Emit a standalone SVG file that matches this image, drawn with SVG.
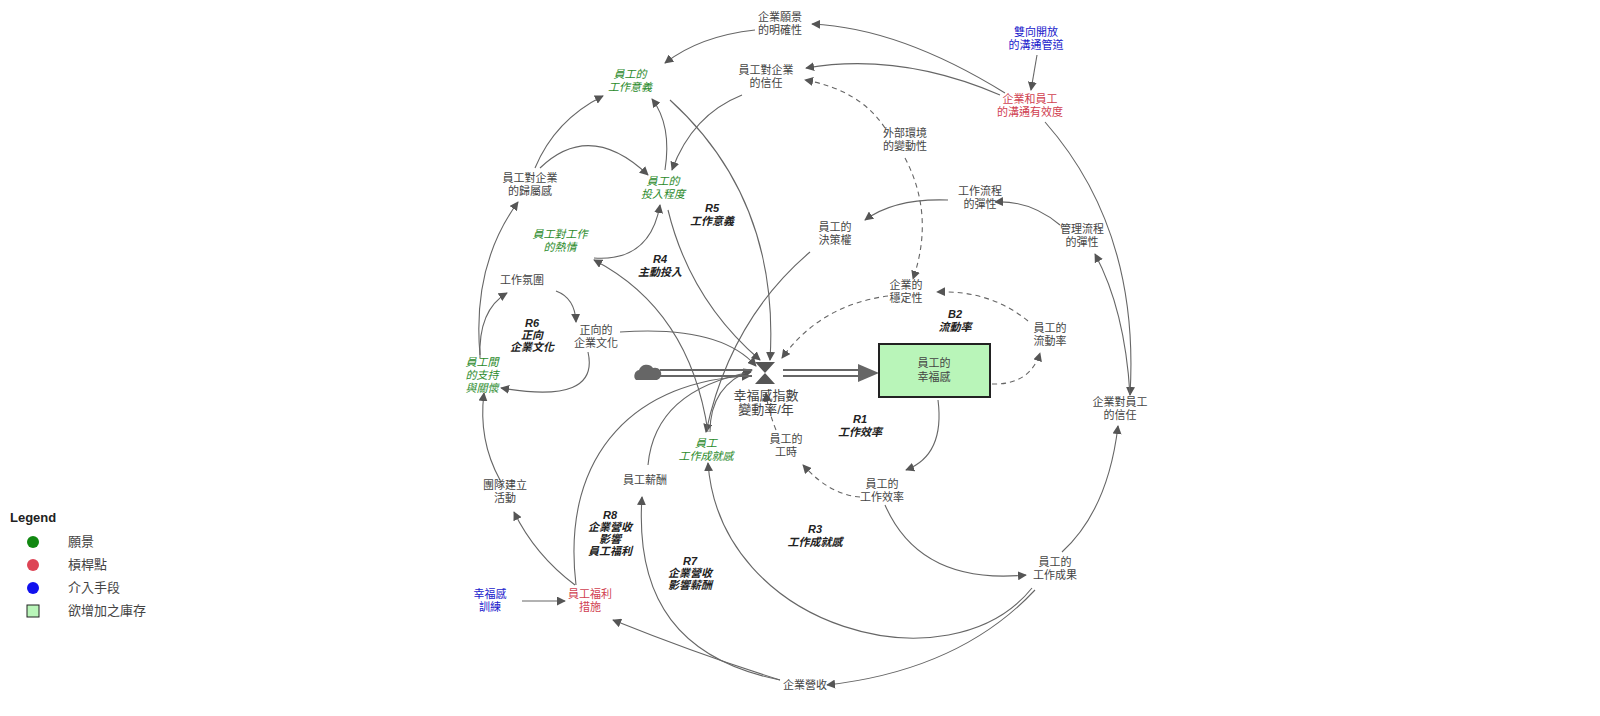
<svg xmlns="http://www.w3.org/2000/svg" width="1600" height="716" viewBox="0 0 1600 716">
<style>
text{font-family:"Liberation Sans","Noto Sans CJK TC",sans-serif;font-size:11px;fill:#444;text-anchor:middle}
.g{fill:#2a8a2a;font-style:italic}
.r{fill:#d04050}
.b{fill:#1a1acc}
.l{font-style:italic;font-weight:bold;fill:#222}
.e{fill:none;stroke:#666;stroke-width:1.1;marker-end:url(#a)}
.d{stroke-dasharray:5,4}
.lg{text-anchor:start;font-size:13px}
</style>
<defs>
<marker id="a" viewBox="0 0 10 10" refX="9" refY="5" markerWidth="9" markerHeight="9" markerUnits="userSpaceOnUse" orient="auto"><path d="M0,0L10,5L0,10z" fill="#555"/></marker>
</defs>
<g id="connectors">
<path class="e" d="M1005,93Q900,28 812,24"/>
<path class="e" d="M1000,95Q900,52 806,68"/>
<path class="e" d="M1037,55L1031,90"/>
<path class="e" d="M1045,122Q1140,230 1130,395"/>
<path class="e" d="M755,30Q700,36 665,63"/>
<path class="e" d="M742,95Q692,115 672,170"/>
<path class="e d" d="M885,128Q860,90 805,80"/>
<path class="e d" d="M905,158Q935,215 913,279"/>
<path class="e" d="M535,168Q555,120 603,96"/>
<path class="e" d="M540,168Q590,120 648,175"/>
<path class="e" d="M665,170Q672,125 652,99"/>
<path class="e" d="M594,258Q650,262 660,205"/>
<path class="e" d="M670,100Q780,200 770,360"/>
<path class="e" d="M668,210Q690,300 760,360"/>
<path class="e" d="M948,200Q895,198 865,220"/>
<path class="e" d="M1060,225Q1030,200 995,202"/>
<path class="e" d="M1130,395Q1125,310 1095,254"/>
<path class="e" d="M810,252Q730,320 706,432"/>
<path class="e" d="M708,432Q690,310 594,260"/>
<path class="e" d="M556,291Q575,298 576,322"/>
<path class="e" d="M588,352Q600,405 501,388"/>
<path class="e" d="M480,358Q478,310 507,293"/>
<path class="e" d="M480,355Q472,265 518,202"/>
<path class="e" d="M620,332Q720,325 756,366"/>
<path class="e d" d="M888,296Q820,305 782,358"/>
<path class="e d" d="M1028,321Q990,290 937,292"/>
<path class="e d" d="M992,384Q1030,385 1040,353"/>
<path class="e" d="M938,400Q945,455 906,470"/>
<path class="e d" d="M860,497Q830,495 803,465"/>
<path class="e d" d="M776,430Q768,410 766,393"/>
<path class="e" d="M885,505Q920,585 1026,575"/>
<path class="e" d="M1062,552Q1108,510 1118,426"/>
<path class="e" d="M1035,590Q960,670 827,685"/>
<path class="e" d="M1032,588C950,690 720,630 708,463"/>
<path class="e" d="M780,680Q700,655 613,620"/>
<path class="e" d="M780,680C680,660 635,600 642,497"/>
<path class="e" d="M575,585Q535,555 514,512"/>
<path class="e" d="M500,480Q478,440 484,393"/>
<path class="e" d="M522,601L565,601"/>
<path class="e" d="M576,585C560,450 640,380 750,376"/>
<path class="e" d="M648,465Q655,390 751,372"/>
<path class="e" d="M710,432Q710,385 752,370"/>
</g>
<g id="flow">
<path d="M636,380a6,6 0 0,1 3,-10a8,8 0 0,1 14,-2a6,6 0 0,1 4,12z" fill="#666"/>
<path d="M660,370H752M660,376H752" stroke="#666" stroke-width="2.2"/>
<path d="M783,370H862M783,376H862" stroke="#666" stroke-width="2.2"/>
<path d="M858,364L879,373L858,382z" fill="#666"/>
<path d="M755,362H775L765,373L775,384H755L765,373z" fill="#555"/>
</g>
<g id="stock"><rect x="879" y="344" width="111" height="53" fill="#b9f5b9" stroke="#222" stroke-width="2"/><text x="934" y="367">員工的</text><text x="934" y="381">幸福感</text></g>
<g id="n1"><text x="780" y="21">企業願景</text><text x="780" y="34">的明確性</text></g>
<g id="n2"><text class="b" x="1036" y="36">雙向開放</text><text class="b" x="1036" y="49">的溝通管道</text></g>
<g id="n3"><text class="g" x="630" y="78">員工的</text><text class="g" x="630" y="91">工作意義</text></g>
<g id="n4"><text x="766" y="74">員工對企業</text><text x="766" y="87">的信任</text></g>
<g id="n5"><text class="r" x="1030" y="103">企業和員工</text><text class="r" x="1030" y="116">的溝通有效度</text></g>
<g id="n6"><text x="905" y="137">外部環境</text><text x="905" y="150">的變動性</text></g>
<g id="n7"><text x="530" y="182">員工對企業</text><text x="530" y="195">的歸屬感</text></g>
<g id="n8"><text class="g" x="663" y="185">員工的</text><text class="g" x="663" y="198">投入程度</text></g>
<g id="n9"><text class="l" x="712" y="212">R5</text><text class="l" x="712" y="225">工作意義</text></g>
<g id="n10"><text x="980" y="195">工作流程</text><text x="980" y="208">的彈性</text></g>
<g id="n11"><text x="1082" y="233">管理流程</text><text x="1082" y="246">的彈性</text></g>
<g id="n12"><text class="g" x="560" y="238">員工對工作</text><text class="g" x="560" y="251">的熱情</text></g>
<g id="n13"><text x="835" y="231">員工的</text><text x="835" y="244">決策權</text></g>
<g id="n14"><text class="l" x="660" y="263">R4</text><text class="l" x="660" y="276">主動投入</text></g>
<g id="n15"><text x="522" y="284">工作氛圍</text></g>
<g id="n16"><text x="906" y="289">企業的</text><text x="906" y="302">穩定性</text></g>
<g id="n17"><text class="l" x="532" y="327">R6</text><text class="l" x="532" y="339">正向</text><text class="l" x="532" y="351">企業文化</text></g>
<g id="n18"><text x="596" y="334">正向的</text><text x="596" y="347">企業文化</text></g>
<g id="n19"><text class="l" x="955" y="318">B2</text><text class="l" x="955" y="331">流動率</text></g>
<g id="n20"><text x="1050" y="332">員工的</text><text x="1050" y="345">流動率</text></g>
<g id="n21"><text class="g" x="482" y="366">員工間</text><text class="g" x="482" y="379">的支持</text><text class="g" x="482" y="392">與關懷</text></g>
<g id="n22"><text x="766" y="400" style="font-size:13px">幸福感指數</text><text x="766" y="414" style="font-size:13px">變動率/年</text></g>
<g id="n23"><text x="1120" y="406">企業對員工</text><text x="1120" y="419">的信任</text></g>
<g id="n24"><text class="l" x="860" y="423">R1</text><text class="l" x="860" y="436">工作效率</text></g>
<g id="n25"><text x="786" y="443">員工的</text><text x="786" y="456">工時</text></g>
<g id="n26"><text class="g" x="706" y="447">員工</text><text class="g" x="706" y="460">工作成就感</text></g>
<g id="n27"><text x="645" y="484">員工薪酬</text></g>
<g id="n28"><text x="882" y="488">員工的</text><text x="882" y="501">工作效率</text></g>
<g id="n29"><text x="505" y="489">團隊建立</text><text x="505" y="502">活動</text></g>
<g id="n30"><text class="l" x="610" y="519">R8</text><text class="l" x="610" y="531">企業營收</text><text class="l" x="610" y="543">影響</text><text class="l" x="610" y="555">員工福利</text></g>
<g id="n31"><text class="l" x="815" y="533">R3</text><text class="l" x="815" y="546">工作成就感</text></g>
<g id="n32"><text class="l" x="690" y="565">R7</text><text class="l" x="690" y="577">企業營收</text><text class="l" x="690" y="589">影響薪酬</text></g>
<g id="n33"><text x="1055" y="566">員工的</text><text x="1055" y="579">工作成果</text></g>
<g id="n34"><text class="b" x="490" y="598">幸福感</text><text class="b" x="490" y="611">訓練</text></g>
<g id="n35"><text class="r" x="590" y="598">員工福利</text><text class="r" x="590" y="611">措施</text></g>
<g id="n36"><text x="805" y="689">企業營收</text></g>
<g id="legend">
<text class="lg" x="10" y="522" style="font-weight:bold;fill:#222">Legend</text>
<circle cx="33" cy="542" r="6" fill="#118811"/><text class="lg" x="68" y="546">願景</text>
<circle cx="33" cy="565" r="6" fill="#dd4455"/><text class="lg" x="68" y="569">槓桿點</text>
<circle cx="33" cy="588" r="6" fill="#1111ee"/><text class="lg" x="68" y="592">介入手段</text>
<rect x="27" y="605" width="12" height="12" fill="#b9f5b9" stroke="#222"/><text class="lg" x="68" y="615">欲增加之庫存</text>
</g>
</svg>
